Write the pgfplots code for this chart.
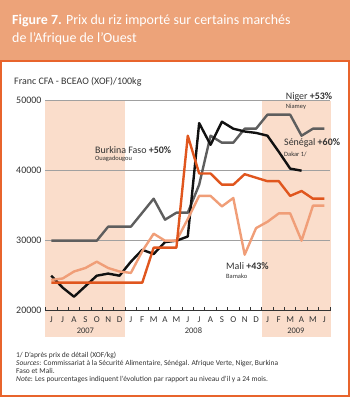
\documentclass[border=0pt]{standalone}
\usepackage{fontspec}
\setmainfont{Carlito}
\usepackage{pgfplots}
\pgfplotsset{compat=1.18}

\definecolor{band}{HTML}{EDA379}
\definecolor{frame}{HTML}{E8642C}
\definecolor{yearbg}{HTML}{FADDCB}
\definecolor{niger}{HTML}{5E5E5E}
\definecolor{senegal}{HTML}{111111}
\definecolor{burkina}{HTML}{E0561E}
\definecolor{mali}{HTML}{F09E78}
\definecolor{gridc}{HTML}{A0A0A0}
\definecolor{txt}{HTML}{333333}

% month index: 0 = June 2007 ... 24 = June 2009
\pgfplotstableread{
m  burkina mali  niger senegal
0  24000   24400 30000 25000
1  24000   24600 30000 23300
2  24000   25600 30000 22000
3  24000   26100 30000 23500
4  24000   27000 30000 25000
5  24000   26100 32000 25300
6  24000   25600 32000 25000
7  24000   25400 32000 27000
8  24000   28500 34000 28700
9  29000   31000 36000 28100
10 29000   30000 33000 29800
11 29000   30000 34000 30000
12 45000   33100 34000 30600
13 39600   36400 38000 46800
14 39600   36400 45000 43700
15 38000   34900 44000 47000
16 38000   36100 44000 46000
17 39500   28000 46000 45600
18 39000   31800 46000 45400
19 38500   32700 48000 45000
20 38500   33900 48000 42700
21 36400   33900 48000 40300
22 37100   30000 45000 40000
23 36000   35000 46000 nan
24 36000   35000 46000 nan
}\prices

\begin{document}
\begin{tikzpicture}[x=1bp,y=1bp]
\fill[band] (0,335) rectangle (350,397);
\draw[frame, line width=2bp] (1,1) rectangle (349,335.5);

% 2007 and 2009 bands (behind the axis)
\fill[yearbg] (45,60) rectangle (125.2,296.3);
\fill[yearbg] (261.7,60) rectangle (331.2,296.3);

\node[anchor=west, text=white, inner sep=0] at (12,376)
  {\fontsize{14}{17}\selectfont\textbf{Figure 7.} Prix du riz importé sur certains marchés};
\node[anchor=west, text=white, inner sep=0] at (12,358.5)
  {\fontsize{14}{17}\selectfont de l’Afrique de l’Ouest};

\node[anchor=west, text=txt, inner sep=0] at (14,315.3)
  {\fontsize{10}{12}\selectfont Franc CFA - BCEAO (XOF)/100kg};

\begin{axis}[
    at={(45bp,86.3bp)}, anchor=south west,
    width=285bp, height=210bp, scale only axis,
    clip=false,
    xmin=-0.55, xmax=24.5, ymin=20000, ymax=50000,
    axis x line*=bottom, axis y line*=left,
    x axis line style={line width=0.8bp, txt},
    y axis line style={draw=none},
    xtick={0,...,24},
    xticklabels={J,J,A,S,O,N,D,J,F,M,A,M,J,J,A,S,O,N,D,J,F,M,A,M,J},
    minor xtick={-0.5,0.5,...,24.5},
    ytick={20000,30000,40000,50000},
    scaled y ticks=false,
    major tick length=0pt, minor tick length=4bp, tick align=inside,
    minor tick style={line width=0.8bp, txt},
    ymajorgrids, grid style={gridc, line width=0.8bp},
    /pgf/number format/assume math mode=true,
    /pgf/number format/1000 sep={},
    yticklabel style={font=\fontsize{10}{12}\selectfont, text=txt},
    xticklabel style={font=\fontsize{9}{11}\selectfont, text=txt, text height=1.4ex, yshift=-1.5bp},
    every axis plot/.append style={line width=2.4bp, line join=round},
    unbounded coords=jump,
]
\addplot[niger, no markers] table[x=m, y=niger] {\prices};
\addplot[senegal, no markers] table[x=m, y=senegal] {\prices};
\addplot[mali, no markers] table[x=m, y=mali] {\prices};
\addplot[burkina, no markers] table[x=m, y=burkina] {\prices};

\node[text=txt, font=\fontsize{8.5}{10}\selectfont] at (axis cs:3,17100) {2007};
\node[text=txt, font=\fontsize{8.5}{10}\selectfont] at (axis cs:12.5,17100) {2008};
\node[text=txt, font=\fontsize{8.5}{10}\selectfont] at (axis cs:21.5,17100) {2009};
\end{axis}

% series labels
\node[anchor=west, text=txt, inner sep=0] at (95,247)
  {\fontsize{10}{12}\selectfont Burkina Faso \textbf{+50\%}};
\node[anchor=west, text=txt, inner sep=0] at (95,237.7)
  {\fontsize{6.5}{8}\selectfont Ouagadougou};
\node[anchor=west, text=txt, inner sep=0] at (285.7,300.3)
  {\fontsize{10}{12}\selectfont Niger \textbf{+53\%}};
\node[anchor=west, text=txt, inner sep=0] at (285.7,290.3)
  {\fontsize{6.5}{8}\selectfont Niamey};
\node[anchor=west, text=txt, inner sep=0] at (284,253.7)
  {\fontsize{10}{12}\selectfont Sénégal \textbf{+60\%}};
\node[anchor=west, text=txt, inner sep=0] at (284,243)
  {\fontsize{6.5}{8}\selectfont Dakar 1/};
\node[anchor=west, text=txt, inner sep=0] at (226,131)
  {\fontsize{10}{12}\selectfont Mali \textbf{+43\%}};
\node[anchor=west, text=txt, inner sep=0] at (226,121)
  {\fontsize{6.5}{8}\selectfont Bamako};

% footnotes
\begin{scope}[every node/.style={anchor=west, text=txt, inner sep=0, font=\fontsize{7.5}{9}\selectfont}]
\node at (16,42) {1/ D’après prix de détail (XOF/kg)};
\node at (16,33.7) {\textit{Sources}: Commissariat à la Sécurité Alimentaire, Sénégal. Afrique Verte, Niger, Burkina};
\node at (16,26.3) {Faso et Mali.};
\node at (16,17.7) {\textit{Note}: Les pourcentages indiquent l’évolution par rapport au niveau d’il y a 24 mois.};
\end{scope}
\end{tikzpicture}
\end{document}
